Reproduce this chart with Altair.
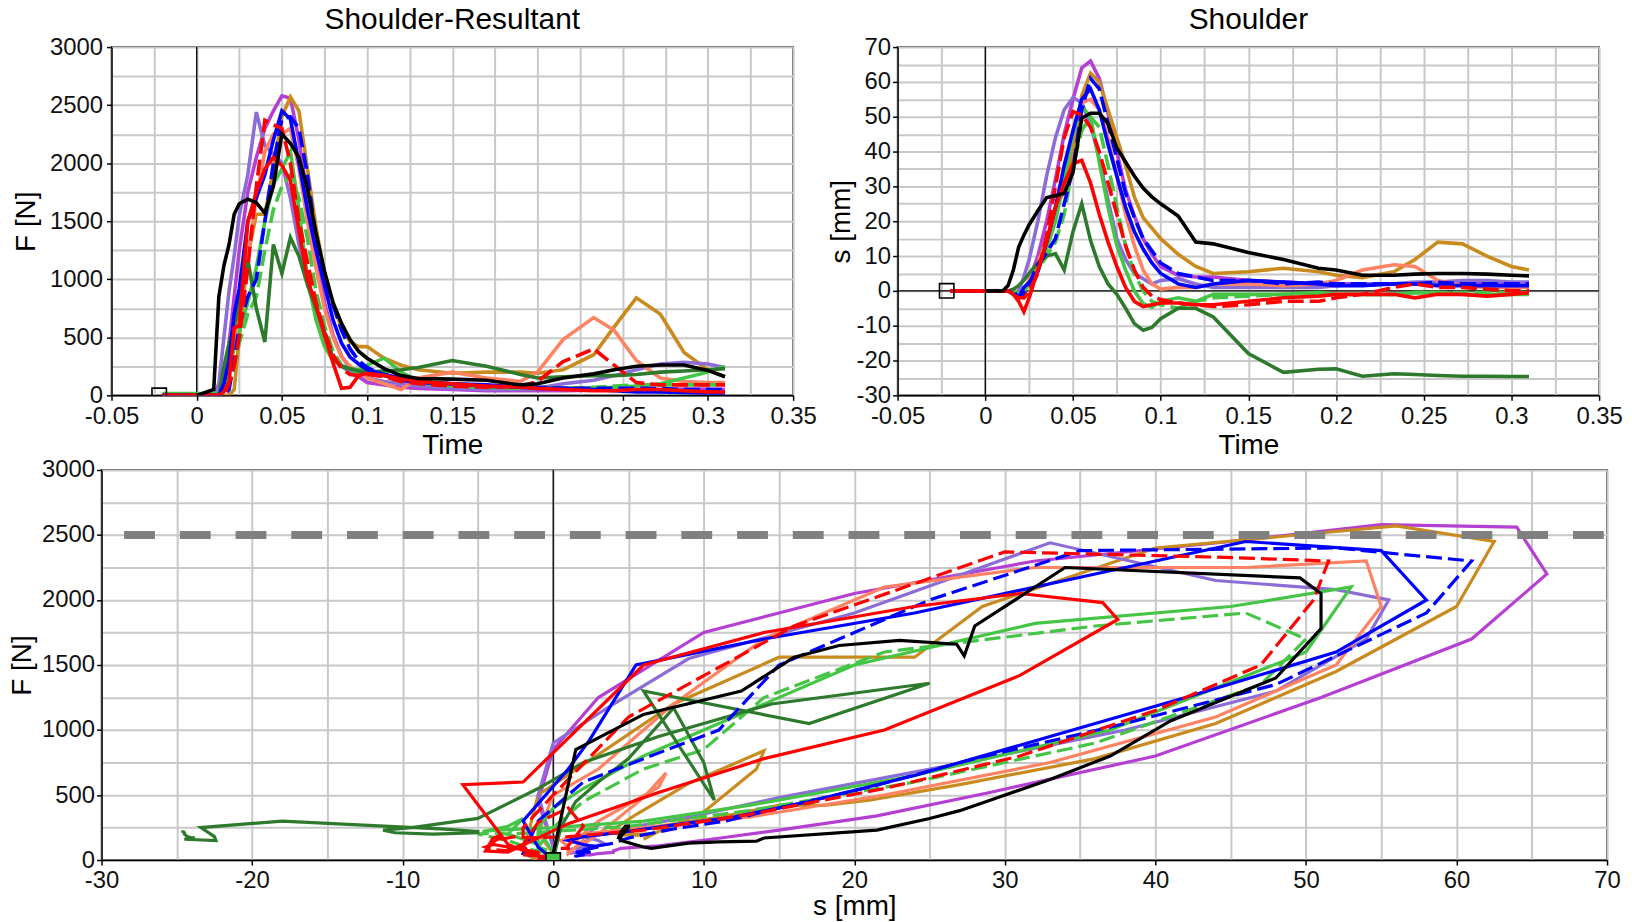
import altair as alt
import pandas as pd

# ---------------- data ----------------
TIME = [-0.02, 0.0, 0.01, 0.013, 0.016, 0.019, 0.022, 0.025, 0.03, 0.035,
        0.04, 0.045, 0.05, 0.055, 0.06, 0.065, 0.07, 0.075, 0.08, 0.085,
        0.09, 0.095, 0.1, 0.11, 0.12, 0.13, 0.15, 0.17, 0.19, 0.2,
        0.215, 0.233, 0.245, 0.258, 0.272, 0.286, 0.3, 0.31]

F_BLACK = [None, 0, 50, 850, 1120, 1300, 1560, 1650, 1690, 1660, 1570, 1800, 2250, 2170, 2050, 1780, 1400, 1070, 800, 620,
           480, 380, 320, 230, 170, 145, 140, 130, 90, 100, 150, 185, 220, 250, 262, 262, 215, 160]
S_BLACK = [None, 0, 0, 1.5, 6, 12.5, 16, 19, 23, 26.8, 27.3, 28, 34, 49.6, 51, 51, 48, 41, 37, 33,
           29.5, 27, 25, 21.5, 14, 13.5, 11, 9, 6.5, 6, 4.5, 4.5, 4.8, 5, 5, 4.8, 4.5, 4.3]

F_MAGENTA = [0, 0, 0, 0, 100, 450, 850, 1250, 1750, 2050, 2300, 2450, 2580, 2560, 2200, 1700, 1250, 800, 520, 340,
             230, 160, 110, 90, 70, 60, 50, 40, 40, 40, 40, 45, 50, 50, 50, 55, 55, 50]
S_MAGENTA = [0, 0, 0, 0, 0, -1, 0, 3, 10, 20, 32, 45, 55, 64, 66, 61, 51, 40, 29, 21.5,
             15, 10.5, 7, 4.5, 4, 4, 3, 2.5, 2, 2, 2, 2, 2, 2, 2, 2, 2, 2]

F_GOLD = [0, 0, 0, 0, 0, 0, 50, 500, 1200, 1560, 1560, 1950, 2400, 2570, 2450, 1950, 1450, 1050, 780, 580,
          460, 420, 420, 320, 260, 220, 190, 200, 200, 190, 220, 350, 590, 840, 700, 370, 220, 160]
S_GOLD = [0, 0, 0, 0, 0, -1, -2, -1, 8, 15, 24, 28.5, 40, 56, 62.5, 60, 52, 44, 36, 27,
          21, 18, 15, 10.5, 7, 5, 5.5, 6.5, 5.5, 4.5, 3.8, 5.5, 9, 14, 13.5, 10, 7, 6]

F_BLUE = [0, 0, 0, 0, 100, 300, 700, 920, 1500, 1700, 1900, 2200, 2450, 2380, 2000, 1600, 1250, 950, 650, 450,
          330, 270, 220, 180, 150, 120, 100, 90, 70, 60, 60, 50, 40, 30, 30, 25, 20, 20]
S_BLUE = [0, 0, 0, 0, -1, -2, 1, 2.4, 5.5, 14, 24, 36, 46, 55, 58, 52, 42, 33, 24, 17,
          12, 8, 5, 2, 1, 2, 3, 2.5, 2, 1.5, 1.5, 2, 2, 1.5, 1.5, 1.5, 1.5, 1.5]

F_BLUE_D = [0, 0, 0, 0, 0, 50, 300, 600, 850, 1000, 1500, 2000, 2380, 2400, 2300, 1900, 1350, 1050, 780, 560,
            400, 300, 240, 170, 130, 110, 100, 80, 70, 70, 60, 60, 60, 60, 60, 50, 50, 50]
S_BLUE_D = [0, 0, 0, 0, 0, -2, -1, 2, 7.6, 11, 15, 25, 35, 52, 61, 58, 48, 38, 28, 21,
            15, 11.5, 8, 5, 4, 3, 3, 2, 2.5, 2, 2, 2, 2, 2.5, 2, 2, 2, 2]

F_RED = [0, 0, 0, 0, 30, 120, 580, 600, 1500, 1750, 1950, 2050, 1980, 1850, 1420, 1000, 780, 520, 280, 60,
         70, 170, 190, 170, 140, 120, 100, 80, 70, 60, 50, 40, 40, 50, 50, 40, 30, 30]
S_RED = [0, 0, 0, 0, -1, -3, -6, -2, 6, 14, 24, 31, 36.5, 37.5, 31, 22, 14, 7, 1, -3,
         -4.5, -4, -3.5, -3.5, -4, -4, -3, -2, -1.5, -1, -1, -1, -2, -1, -1, -1.5, -1, -0.5]

F_RED_D = [0, 0, 0, 0, 0, 100, 250, 500, 1100, 1800, 2370, 2330, 2300, 2000, 1500, 1150, 800, 550, 350, 230,
           180, 170, 180, 160, 120, 100, 80, 70, 80, 120, 290, 400, 260, 110, 90, 90, 90, 90]
S_RED_D = [0, 0, 0, 0, -1, -2, -2, 0, 5, 16, 30, 44, 51.5, 50.5, 47, 40, 31, 22, 13, 6,
           1, -1.5, -2.5, -3.5, -4, -4.5, -4, -3, -3, -2, -1, 1, 2, 1, 1, 0.5, 0, 0]

F_DKGREEN = [0, 0, 0, 0, 250, 450, 600, 780, 1170, 750, 460, 1300, 1050, 1360, 1200, 950, 750, 550, 320, 250,
             230, 210, 200, 210, 220, 240, 300, 250, 180, 150, 160, 170, 170, 180, 200, 210, 220, 230]
S_DKGREEN = [0, 0, 0, 0, 0.5, 1.5, 3, 5, 8, 10, 10.7, 6, 17, 25, 14.5, 7, 2, -1, -5, -9.4,
             -11.3, -10.5, -8, -5, -5, -7.5, -18, -23.4, -22.5, -22.4, -24.5, -23.8, -24, -24.3, -24.5, -24.5, -24.6, -24.6]

F_LTGREEN = [15, 15, 15, 15, 50, 250, 400, 550, 800, 1100, 1500, 1820, 1950, 2100, 1600, 1000, 650, 420, 300, 250,
             230, 220, 260, 320, 200, 120, 100, 80, 70, 70, 60, 60, 70, 80, 100, 150, 200, 250]
S_LTGREEN = [0, 0, 0, 0, 0, -1, 0, 2, 6, 12, 20, 32, 45, 53, 50, 37, 24, 13, 6, 0,
             -3.7, -4.7, -3, -2, -3, -1, -1, -1, -0.5, -1, -1, -1, -0.5, -0.5, -1, -1, -1, -1]

F_LTGREEN_D = [0, 0, 0, 0, 0, 100, 250, 450, 700, 850, 1250, 1600, 1800, 1900, 1700, 1350, 900, 600, 380, 260,
               220, 200, 210, 200, 150, 110, 80, 70, 60, 60, 60, 70, 80, 90, 90, 90, 90, 90]
S_LTGREEN_D = [0, 0, 0, 0, 0, -1, 0, 2, 6, 10, 14, 22, 36, 46, 50, 47, 36, 24, 13, 5,
               0, -3, -4, -5, -3, -2, -1.5, -1, -1, -1, -1, -1, -0.5, -0.5, -0.5, -0.5, -0.5, -0.5]

F_SALMON = [0, 0, 0, 0, 50, 200, 500, 700, 1200, 1700, 2100, 2250, 2250, 2300, 1950, 1500, 1100, 750, 500, 330,
            250, 200, 150, 100, 50, 150, 200, 150, 120, 200, 480, 670, 560, 300, 150, 120, 110, 110]
S_SALMON = [0, 0, 0, 0, 0, -1, 0, 3, 8, 14, 22, 32, 46, 54, 55, 52, 44, 33, 22, 13,
            6, 2, 0.5, 1, 1, 2, 2, 1.5, 2, 3, 6, 7.5, 7, 3, 1.5, 1, 1, 1]

F_PURPLE = [0, 0, 0, 100, 500, 900, 1200, 1550, 1900, 2440, 2150, 2080, 2000, 1700, 1300, 1000, 720, 480, 330, 250,
            200, 180, 150, 120, 100, 80, 60, 50, 50, 60, 100, 130, 170, 220, 270, 285, 270, 240]
S_PURPLE = [0, 0, 0, 0, -1, 0, 4, 9, 20, 33, 44, 52, 55.5, 54, 48, 38, 26, 15, 9, 5,
            3.5, 2, 3, 3.5, 2, 1, 1, 1, 1, 1.5, 2, 2, 2.5, 2.5, 3, 3, 2.5, 2.5]

# drawing order: first drawn is lowest
SERIES = [
    ("magenta", "#B63FD3", False, F_MAGENTA, S_MAGENTA),
    ("goldenrod", "#C98A1E", False, F_GOLD, S_GOLD),
    ("purple", "#8C6CD6", False, F_PURPLE, S_PURPLE),
    ("salmon", "#FF8262", False, F_SALMON, S_SALMON),
    ("lightgreen dashed", "#45C545", True, F_LTGREEN_D, S_LTGREEN_D),
    ("lightgreen", "#45C545", False, F_LTGREEN, S_LTGREEN),
    ("darkgreen", "#2D7A2D", False, F_DKGREEN, S_DKGREEN),
    ("blue dashed", "#0000FF", True, F_BLUE_D, S_BLUE_D),
    ("blue", "#0000FF", False, F_BLUE, S_BLUE),
    ("red dashed", "#FF0000", True, F_RED_D, S_RED_D),
    ("red", "#FF0000", False, F_RED, S_RED),
    ("black", "#000000", False, F_BLACK, S_BLACK),
]

THRESHOLD_F = 2500
THRESHOLD_S = [-28.5, 70]
START_T = -0.022
ZERO = 0

T_TICKS = [round(-0.05 + 0.025 * i, 3) for i in range(17)]
F_TICKS = [250 * i for i in range(13)]
S_TICKS = [-30 + 5 * i for i in range(21)]

rows = []
for name, color, dashed, F, S in SERIES:
    for t, f, s in zip(TIME, F, S):
        if f is None or s is None:
            continue
        rows.append({"series": name, "t": t, "F": f, "s": s})
df = pd.DataFrame(rows)

FONT = "Liberation Sans"
T_TEST = "abs(datum.value * 20 - round(datum.value * 20)) < 0.001"
F_TEST = "datum.value % 500 === 0"
S_TEST = "datum.value % 10 === 0"


def axis(values, test, title, **kw):
    return alt.Axis(
        values=values,
        labelExpr=f"({test}) ? '' + datum.value : ''",
        tickOpacity={"condition": {"test": test, "value": 1}, "value": 0},
        title=title,
        **kw,
    )


def panel(xfield, yfield, xdom, ydom, xaxis, yaxis, width, height, title=None,
          zero_h=False, marker=None, marker_fill=None, threshold=False, sw=3.6):
    xs = alt.Scale(domain=xdom, nice=False, zero=False)
    ys = alt.Scale(domain=ydom, nice=False, zero=False)
    base_df = pd.DataFrame({"z": [ZERO]})
    layers = [
        alt.Chart(base_df).mark_rule(color="black", strokeWidth=1.3).encode(
            x=alt.X("z:Q", scale=xs, axis=xaxis))
    ]
    if zero_h:
        layers.append(alt.Chart(base_df).mark_rule(color="black", strokeWidth=1.3).encode(
            y=alt.Y("z:Q", scale=ys, axis=yaxis)))
    for name, color, dashed, F, S in SERIES:
        kw = dict(color=color, strokeWidth=sw, clip=True)
        if dashed:
            kw["strokeDash"] = [16, 6]
        layers.append(
            alt.Chart(df[df.series == name]).mark_line(**kw).encode(
                x=alt.X(f"{xfield}:Q", scale=xs, axis=xaxis),
                y=alt.Y(f"{yfield}:Q", scale=ys, axis=yaxis),
                order=alt.Order("t:Q"),
            )
        )
    if marker is not None:
        mdf = pd.DataFrame({"mx": [marker[0]], "my": [marker[1]]})
        pkw = dict(shape="square", size=210, strokeWidth=1.6, stroke="black", clip=True, opacity=1)
        if marker_fill:
            pkw.update(filled=True, fill=marker_fill)
        else:
            pkw.update(filled=False)
        layers.append(alt.Chart(mdf).mark_point(**pkw).encode(
            x=alt.X("mx:Q", scale=xs, axis=xaxis), y=alt.Y("my:Q", scale=ys, axis=yaxis)))
    if threshold:
        tdf = pd.DataFrame({"s0": [THRESHOLD_S[0]], "s1": [THRESHOLD_S[1]], "f": [THRESHOLD_F]})
        layers.append(alt.Chart(tdf).mark_rule(color="#808080", strokeWidth=8, strokeDash=[31, 25]).encode(
            x=alt.X("s0:Q", scale=xs, axis=xaxis), x2="s1:Q", y=alt.Y("f:Q", scale=ys, axis=yaxis)))
    props = dict(width=width, height=height)
    if title:
        props["title"] = alt.TitleParams(title, font=FONT, fontSize=30, fontWeight="normal",
                                         color="black", anchor="middle", baseline="alphabetic", offset=-24)
    return alt.layer(*layers).properties(**props)


tl = panel(
    "t", "F", [-0.05, 0.35], [0, 3000],
    axis(T_TICKS, T_TEST, "Time", labelPadding=4, titlePadding=3),
    axis(F_TICKS, F_TEST, "F [N]", labelPadding=4, titlePadding=9, minExtent=62, maxExtent=62),
    685, 350, title="Shoulder-Resultant", marker=(START_T, 0),
)
tr = panel(
    "t", "s", [-0.05, 0.35], [-30, 70],
    axis(T_TICKS, T_TEST, "Time", labelPadding=4, titlePadding=3),
    axis(S_TICKS, S_TEST, "s [mm]", labelPadding=2, titlePadding=0, minExtent=42, maxExtent=42),
    705, 350, title="Shoulder", zero_h=True, marker=(START_T, 0),
)
bottom = panel(
    "s", "F", [-30, 70], [0, 3000],
    axis(S_TICKS, S_TEST, "s [mm]", labelPadding=4, titlePadding=0),
    axis(F_TICKS, F_TEST, "F [N]", labelPadding=2, titlePadding=5, minExtent=60, maxExtent=60),
    1513, 392, marker=(0, 0), marker_fill="#45C545", threshold=True, sw=3.2,
)

spacer = alt.Chart(pd.DataFrame({"a": [0]})).mark_point(opacity=0).encode(
    x=alt.X("a:Q", axis=None), y=alt.Y("a:Q", axis=None)
).properties(width=10, height=350, view=alt.ViewBackground(strokeOpacity=0))

top = alt.hconcat(spacer, alt.hconcat(tl, tr, spacing=105, bounds="flush"), spacing=0, bounds="flush")

chart = alt.vconcat(top, bottom, spacing=-3).properties(
    padding={"left": 0, "top": -6, "right": 0, "bottom": 0}
).configure_view(
    stroke="black", strokeWidth=1.5
).configure_axis(
    labelFont=FONT, labelFontSize=24, labelColor="#111111",
    titleFont=FONT, titleFontSize=28, titleFontWeight="normal", titleColor="black",
    domainColor="black", domainWidth=1.5, tickColor="black", tickWidth=1.5, tickSize=5,
    gridColor="#c8c8c8", gridWidth=2, labelOverlap=False, labelFlush=False,
)

chart.save("out.html", embed_options={"renderer": "svg", "actions": False})
